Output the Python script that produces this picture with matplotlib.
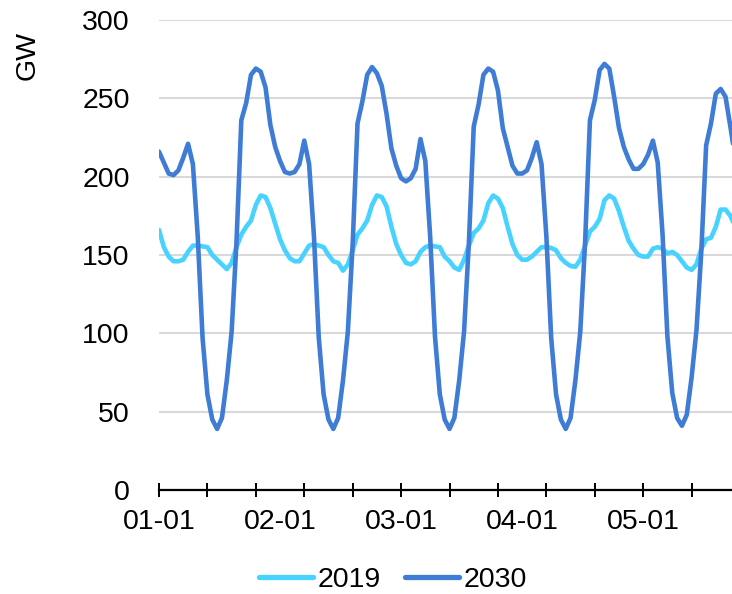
import numpy as np
import matplotlib
matplotlib.use("Agg")
import matplotlib.pyplot as plt

plt.rcParams['font.family'] = ['Liberation Sans', 'DejaVu Sans']

# ---- data (hourly, 5 days) ----
load_2030 = [
    216, 209, 202, 201, 204, 212, 221, 208, 162, 97, 61, 45, 39, 46, 70, 101, 158, 236, 247, 265, 269, 267, 257, 233,
    219, 210, 203, 202, 203, 208, 223, 208, 162, 97, 61, 45, 39, 46, 70, 101, 157, 234, 248, 265, 270, 266, 258, 240,
    218, 207, 199, 197, 199, 205, 224, 210, 162, 98, 61, 45, 39, 46, 70, 101, 158, 232, 246, 265, 269, 267, 255, 231,
    219, 207, 202, 202, 204, 212, 222, 208, 162, 97, 61, 45, 39, 46, 70, 101, 158, 236, 249, 268, 272, 269, 251, 231,
    219, 211, 205, 205, 208, 214, 223, 209, 163, 98, 62, 46, 41, 48, 72, 102, 152, 220, 234, 253, 256, 251, 232, 212,
]
load_2019 = [
    166, 155, 149, 146, 146, 147, 152, 156, 156, 155.5, 155, 150, 147, 144, 141, 145, 155, 163, 168, 172, 182, 188, 187, 180,
    170, 160, 153, 148, 146, 146, 151, 156, 157, 156, 155, 150, 146, 145, 140, 144, 153, 163, 167, 172, 182, 188, 187, 181,
    168, 157, 150, 145, 144, 146, 152, 155, 156, 155.5, 155, 149, 146, 142, 140.5, 147, 156, 164, 167, 172, 183, 188, 186, 180,
    168, 157, 150, 147, 147, 149, 152, 155, 155, 154.5, 153, 148, 145, 143, 142.5, 147, 156, 165, 168, 173, 185, 188, 186, 178,
    168, 159, 154, 150, 149, 149, 154, 155, 154, 151, 152, 150, 146, 142, 140.5, 144, 154, 160, 161, 168, 179, 179, 175, 168,
]
tick_labels = ["01-01", "02-01", "03-01", "04-01", "05-01"]
label_interval = 25
tick_interval = 10
series_names = ["2019", "2030"]
colors = ["#48D2FF", "#3E7CD6"]

FS = 20.5
W, H = 732, 594
fig = plt.figure(figsize=(W / 100, H / 100), dpi=100)
ax = fig.add_axes([159 / W, 104 / H, (W - 159) / W, 470 / H])

x = np.arange(len(load_2030))
for vals, name, c in zip([load_2019, load_2030], series_names, colors):
    ax.plot(x[:len(vals)], vals, color=c, lw=3.3, label=name,
            solid_joinstyle='round', solid_capstyle='round', zorder=3)

ax.set_xlim(0, 573 / 4.842)
ax.set_ylim(0, 300)
ax.set_yticks(np.arange(0, 301, 50))
ax.tick_params(axis='y', length=0, pad=21, labelsize=FS, colors='black')
ax.yaxis.grid(True, color='#D9D9D9', lw=1.5, zorder=0)
ax.set_axisbelow(True)

for s in ['top', 'right', 'left']:
    ax.spines[s].set_visible(False)
ax.spines['bottom'].set_linewidth(1.6)
ax.spines['bottom'].set_color('black')
ax.spines['bottom'].set_zorder(4)

ax.xaxis.remove_overlapping_locs = False
ax.set_xticks(np.arange(0, 120, tick_interval))
ax.set_xticklabels([])
ax.tick_params(axis='x', which='major', direction='inout', length=10, width=1.4, color='black')
ax.set_xticks(np.arange(len(tick_labels)) * label_interval, minor=True)
ax.set_xticklabels(tick_labels, minor=True)
ax.tick_params(axis='x', which='minor', length=0, pad=14, labelsize=FS)

fig.text(28 / W, 1 - 55 / H, "GW", rotation=90, ha='center', va='center', fontsize=FS)

leg = fig.legend(loc='center', bbox_to_anchor=(393 / W, 14 / H), ncol=2, frameon=False,
                 fontsize=FS, handlelength=1.9, handletextpad=0.15, columnspacing=0.85)
for ln in leg.get_lines():
    ln.set_linewidth(3.8)
    ln.set_solid_capstyle('round')

fig.savefig("out.png", dpi=100)
